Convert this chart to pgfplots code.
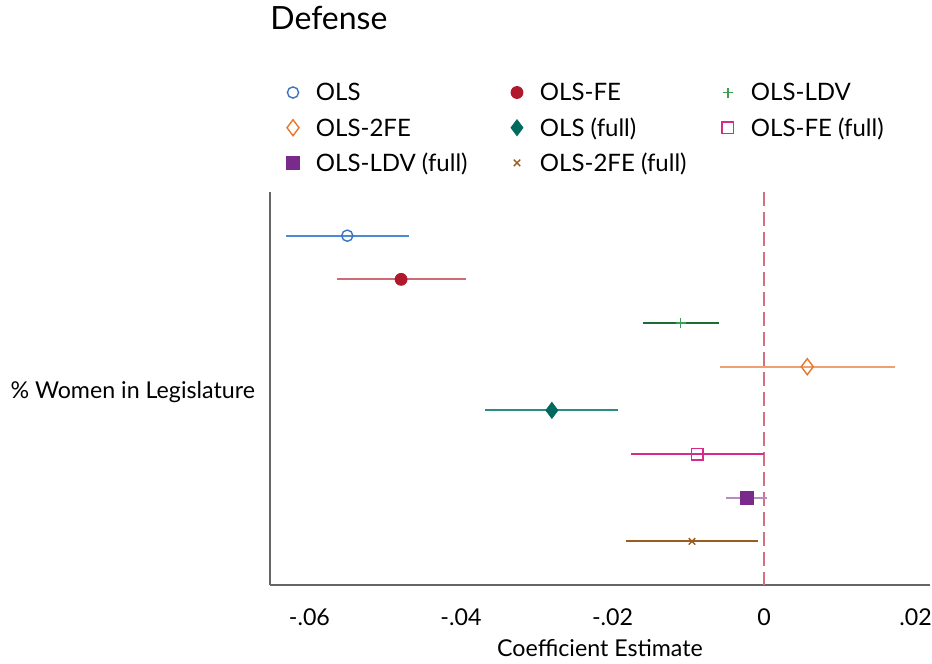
\documentclass[border=0pt]{standalone}
\usepackage{pgfplots}
\pgfplotsset{compat=1.18}
\usepackage{fontspec}
\setmainfont{Lato}

\definecolor{cOLS}{HTML}{3A76C1}
\definecolor{cOLSl}{HTML}{4C8BD0}
\definecolor{cFE}{HTML}{B0182B}
\definecolor{cFEl}{HTML}{D06A77}
\definecolor{cLDV}{HTML}{3C9E53}
\definecolor{cLDVl}{HTML}{1E6B36}
\definecolor{c2FE}{HTML}{E8782A}
\definecolor{c2FEl}{HTML}{F0A070}
\definecolor{cOLSf}{HTML}{006A5E}
\definecolor{cOLSfl}{HTML}{2F8A80}
\definecolor{cFEf}{HTML}{D62B8A}
\definecolor{cLDVf}{HTML}{7A2A8A}
\definecolor{cLDVfl}{HTML}{B68CC2}
\definecolor{c2FEf}{HTML}{9A5C20}
\definecolor{zeroline}{HTML}{D4707F}

\newcommand{\leg}[2]{\makebox[#1][l]{\strut #2}}

\begin{document}
\begin{tikzpicture}
\path[use as bounding box] (0pt,0pt) rectangle (466pt,-332pt);
\node[anchor=west, inner sep=0pt, font=\fontsize{16}{19}\selectfont] at (135pt,-9pt) {Defense};
\begin{axis}[
  at={(135pt,-292.5pt)}, anchor=south west,
  scale only axis, width=330pt, height=196.5pt,
  xmin=-0.0652, xmax=0.0219, ymin=0, ymax=9, y dir=reverse,
  axis x line*=bottom, axis y line*=left,
  axis line style={black!60, line width=0.7pt},
  scaled x ticks=false,
  xtick={-0.06,-0.04,-0.02,0,0.02},
  xticklabels={-.06,-.04,-.02,0,.02},
  ytick={4.5}, yticklabels={\% Women in Legislature},
  major tick length=0pt,
  tick label style={font=\fontsize{11.6}{13}\selectfont},
  xticklabel style={yshift=-8.5pt},
  yticklabel style={xshift=-4pt, yshift=-2pt},
  xlabel={Coefficient Estimate},
  xlabel style={at={(axis description cs:0.5,0)}, anchor=center, yshift=-31.5pt, font=\fontsize{11.6}{13}\selectfont},
  clip=false,
  legend columns=3,
  legend cell align=left,
  legend style={draw=none, fill=none, at={(axis description cs:0.0197,1.282)}, anchor=north west,
    inner sep=0pt, outer sep=0pt, font=\fontsize{12}{14}\selectfont,
    row sep=6.3pt, column sep=0pt,
    /tikz/every odd column/.append style={column sep=6.5pt},
    /tikz/every even column/.append style={column sep=5pt},
    nodes={inner sep=0pt}},
  legend image code/.code={\path[draw=none,fill=none] (-5pt,-3pt) rectangle (5pt,3pt); \draw[#1] plot coordinates {(0pt,0pt)};},
  error bars/error mark=none,
]
% reference line at zero
\addplot[forget plot, zeroline, line width=0.7pt, dash pattern=on 7pt off 3pt] coordinates {(0,0) (0,9)};

\addplot[only marks, color=cOLS, mark=o, mark size=2.8pt, mark options={line width=0.7pt, fill=white},
  error bars/.cd, x dir=both, x explicit, error bar style={color=cOLSl, line width=0.9pt}]
  coordinates {(-0.0550,1) += (0.0081,0) -= (0.0081,0)};
\addlegendentry{\leg{90.5pt}{OLS}}

\addplot[only marks, color=cFE, mark=*, mark size=3pt,
  error bars/.cd, x dir=both, x explicit, error bar style={color=cFEl, line width=0.9pt}]
  coordinates {(-0.0479,2) += (0.0085,0) -= (0.0085,0)};
\addlegendentry{\leg{84pt}{OLS-FE}}

\addplot[only marks, color=cLDV, mark=+, mark size=2.5pt, mark options={line width=0.7pt},
  error bars/.cd, x dir=both, x explicit, error bar style={color=cLDVl, line width=0.9pt}]
  coordinates {(-0.0110,3) += (0.0050,0) -= (0.0050,0)};
\addlegendentry{\leg{70pt}{OLS-LDV}}

\addplot[only marks, color=c2FE, mark=diamond, mark size=4pt, mark options={line width=0.7pt},
  error bars/.cd, x dir=both, x explicit, error bar style={color=c2FEl, line width=0.9pt}]
  coordinates {(0.0057,4) += (0.0116,0) -= (0.0115,0)};
\addlegendentry{\leg{90.5pt}{OLS-2FE}}

\addplot[only marks, color=cOLSf, mark=diamond*, mark size=4pt,
  error bars/.cd, x dir=both, x explicit, error bar style={color=cOLSfl, line width=0.9pt}]
  coordinates {(-0.0280,5) += (0.0087,0) -= (0.0088,0)};
\addlegendentry{\leg{84pt}{OLS (full)}}

\addplot[only marks, color=cFEf, mark=square, mark size=2.9pt, mark options={line width=0.7pt},
  error bars/.cd, x dir=both, x explicit, error bar style={color=cFEf, line width=0.9pt}]
  coordinates {(-0.0088,6) += (0.0088,0) -= (0.0087,0)};
\addlegendentry{\leg{70pt}{OLS-FE (full)}}

\addplot[only marks, color=cLDVf, mark=square*, mark size=3.2pt,
  error bars/.cd, x dir=both, x explicit, error bar style={color=cLDVfl, line width=0.9pt}]
  coordinates {(-0.0023,7) += (0.0027,0) -= (0.0027,0)};
\addlegendentry{\leg{90.5pt}{OLS-LDV (full)}}

\addplot[only marks, color=c2FEf, mark=x, mark size=2.3pt, mark options={line width=0.7pt},
  error bars/.cd, x dir=both, x explicit, error bar style={color=c2FEf, line width=0.9pt}]
  coordinates {(-0.0095,8) += (0.0087,0) -= (0.0087,0)};
\addlegendentry{\leg{84pt}{OLS-2FE (full)}}
\end{axis}
\end{tikzpicture}
\end{document}
